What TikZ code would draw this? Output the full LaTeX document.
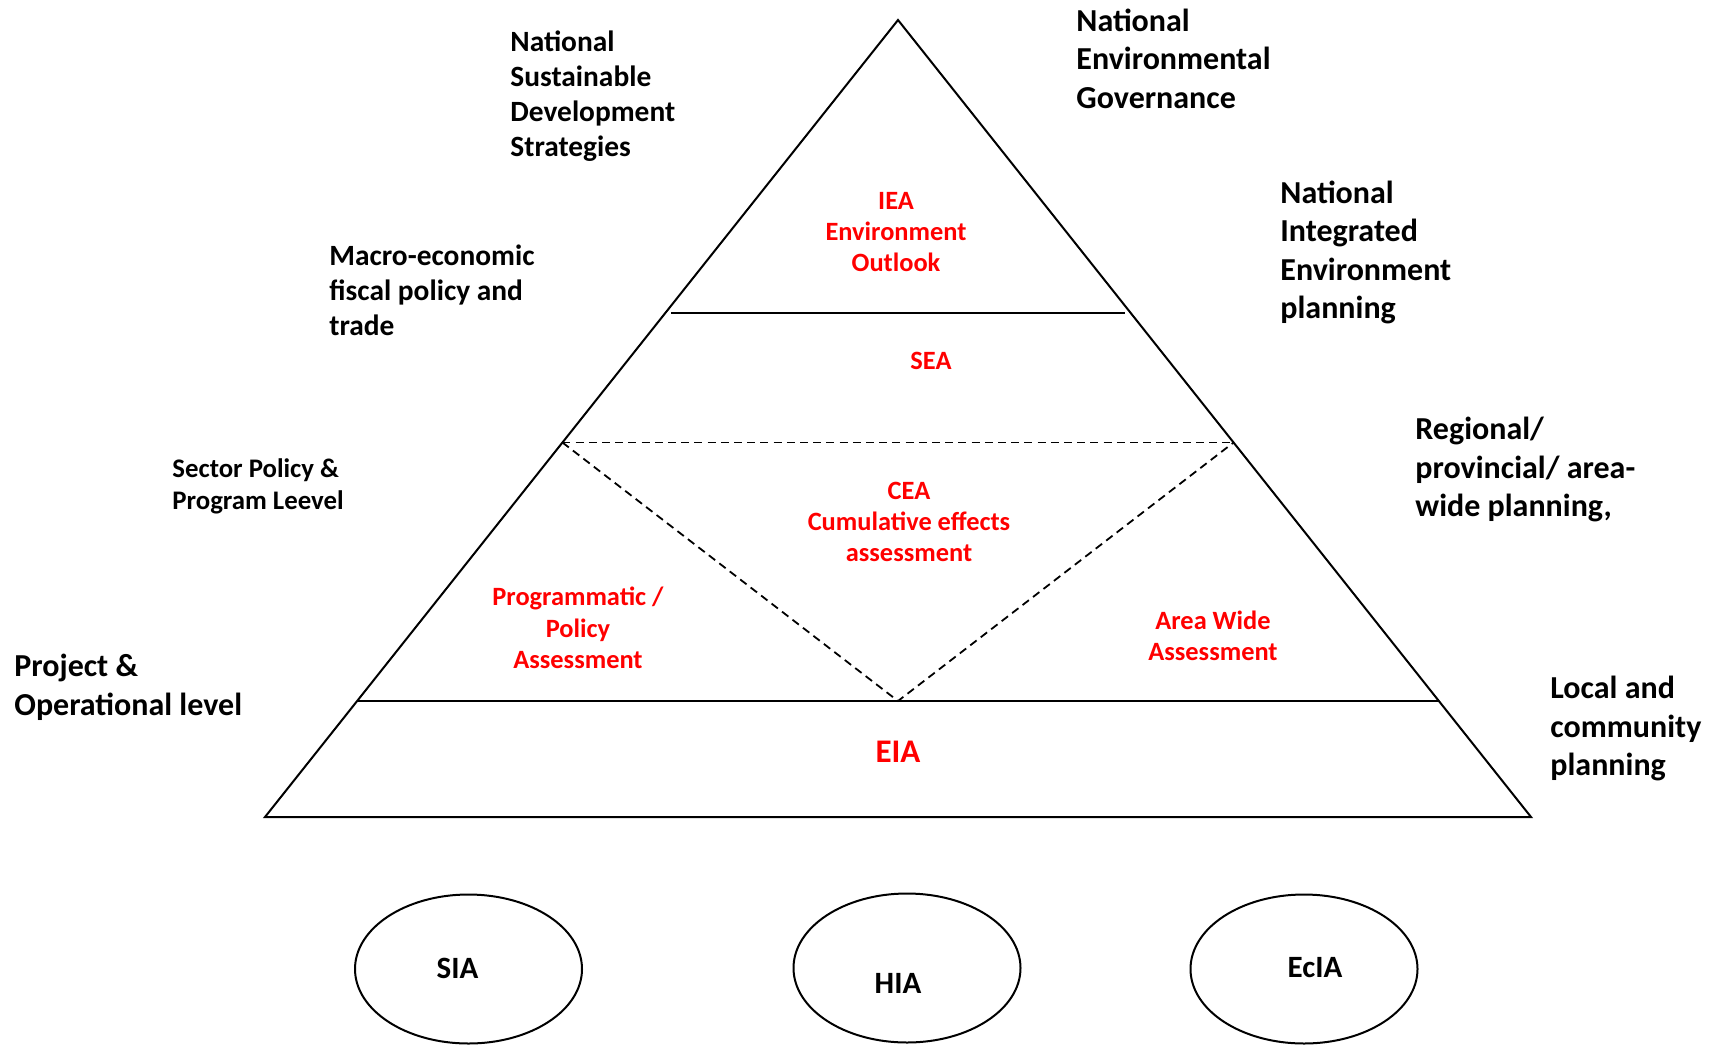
\documentclass[tikz,border=0pt]{standalone}
\usepackage{fontspec}
\setmainfont{Carlito}
\usetikzlibrary{calc,shapes.geometric}
\definecolor{tiertext}{RGB}{255,0,0}

\begin{document}
\begin{tikzpicture}[x=0.5pt,y=-0.5pt,
  edge/.style={line width=1pt, line join=miter},
  band/.style={line width=1.3pt},
  dashline/.style={line width=0.9pt, dash pattern=on 4pt off 2.6pt},
  side/.style={anchor=west, align=left, inner sep=0pt,
    font=\bfseries\fontsize{16}{19.25}\selectfont},
  sidesm/.style={side, font=\bfseries\fontsize{14.7}{17.6}\selectfont},
  sidexs/.style={side, font=\bfseries\fontsize{13.4}{15.85}\selectfont},
  tier/.style={align=center, inner sep=0pt, text=tiertext,
    font=\bfseries\fontsize{13.2}{15.7}\selectfont},
  tierbig/.style={tier, font=\bfseries\fontsize{16.5}{18}\selectfont},
  bubble/.style={draw, ellipse, line width=1pt, minimum width=113.5pt,
    minimum height=74.5pt, inner sep=0pt},
  bubbletext/.style={inner sep=0pt, font=\bfseries\fontsize{15.5}{18}\selectfont}
]
\useasboundingbox (0,0) rectangle (1717,1044);
\fill[white] (0,0) rectangle (1717,1044);

% pyramid corners
\coordinate (apex) at (898,20);
\coordinate (bl) at (265,817);
\coordinate (br) at (1531,817);

% tier boundaries on the two sides
\coordinate (l1) at ($(apex)!0.3676!(bl)+(6,0)$);
\coordinate (r1) at ($(apex)!0.3676!(br)+(-6,0)$);
\coordinate (l2) at ($(apex)!0.5301!(bl)$);
\coordinate (r2) at ($(apex)!0.5301!(br)$);
\coordinate (l3) at ($(apex)!0.8545!(bl)$);
\coordinate (r3) at ($(apex)!0.8545!(br)$);
\coordinate (vtip) at (898,701);

% outline and bands
\draw[edge] (apex) -- (bl) -- (br) -- cycle;
\draw[band] (l1) -- (r1);
\draw[band] (l3) -- (r3);
\draw[dashline] (l2) -- (r2);
\draw[dashline] (l2) -- (vtip) -- (r2);

% tier labels
\node[tier] (iea) at (896,232) {IEA\\Environment\\Outlook};
\node[tier] (sea) at (931,361) {SEA};
\node[tier] (cea) at (909,522) {CEA\\Cumulative effects\\assessment};
\node[tier] (ppa) at (578,628) {Programmatic /\\Policy\\Assessment};
\node[tier] (awa) at (1213,636) {Area Wide\\Assessment};
\node[tierbig] (eia) at (898,752) {EIA};

% level labels
\node[sidesm] (nsds) at (510,96) {National\\Sustainable\\Development\\Strategies};
\node[side] (neg) at (1076,58.5) {National\\Environmental\\Governance};
\node[side] (niep) at (1280,252.5) {National\\Integrated\\Environment\\planning};
\node[sidesm] (macro) at (329,290.5) {Macro-economic\\fiscal policy and\\trade};
\node[side] (regional) at (1415,469.5) {Regional/\\provincial/ area-\\wide planning,};
\node[sidexs] (sector) at (172,486.5) {Sector Policy \&\\Program Leevel};
\node[side] (project) at (14,687.5) {Project \&\\Operational level};
\node[side] (local) at (1550,728.5) {Local and\\community\\planning};

% supporting assessments
\node[bubble] (sia) at (468.5,969) {};
\node[bubble] (hia) at (907,968) {};
\node[bubble] (ecia) at (1304,969) {};
\node[bubbletext] (siat) at (457.5,968) {SIA};
\node[bubbletext] (hiat) at (898,983) {HIA};
\node[bubbletext] (eciat) at (1315,968) {EcIA};
\end{tikzpicture}
\end{document}
